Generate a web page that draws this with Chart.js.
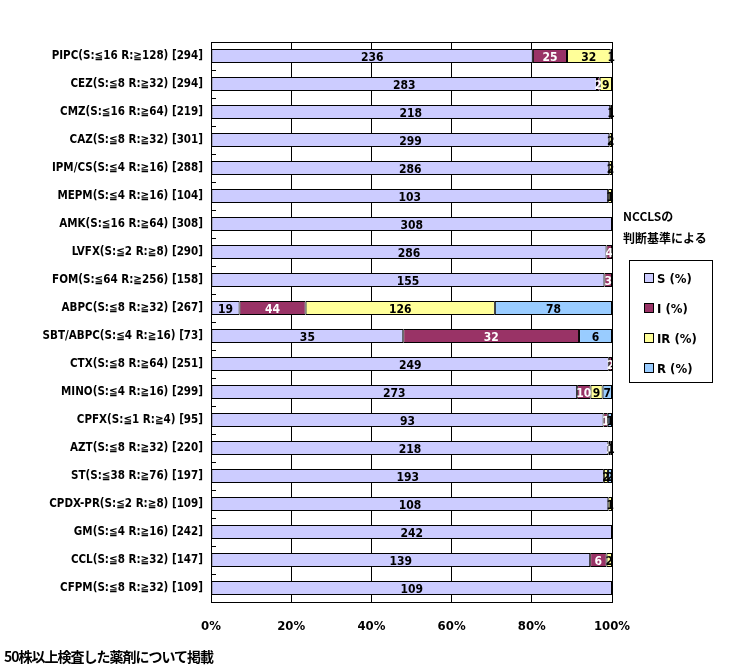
<!DOCTYPE html>
<html>
<head>
<meta charset="utf-8">
<script src="https://cdn.jsdelivr.net/npm/chart.js@4.4.1/dist/chart.umd.min.js"></script>
<style>
  body { margin: 0; background: #fff; }
  #wrap { position: relative; width: 738px; height: 672px; }
  .note { position: absolute; font-family: "Noto Sans CJK JP", sans-serif; font-weight: bold; color: #000; }
  #legendBox { position: absolute; left: 629px; top: 260px; width: 84px; height: 123px; border: 1px solid #000; box-sizing: border-box; }
  .item { position: absolute; left: 14px; font: bold 13px "DejaVu Sans Condensed", sans-serif; }
  .sw { display: inline-block; width: 8px; height: 8px; border: 1px solid #000; margin-right: 3px; vertical-align: 0px; }
</style>
</head>
<body>
<div id="wrap">
  <canvas id="resistChart" width="738" height="672"></canvas>
  <div class="note" style="left:623px; top:207px; font-size:12px;">NCCLSの</div>
  <div class="note" style="left:623px; top:229px; font-size:12px;">判断基準による</div>
  <div id="legendBox"></div>
  <div class="note" style="left:4px; top:646px; font-size:14px; letter-spacing:-1px;">50株以上検査した薬剤について掲載</div>
</div>
<script>
// categories (drug, breakpoints, number of strains)
const categories = [
  "PIPC(S:≦16 R:≧128) [294]", "CEZ(S:≦8 R:≧32) [294]", "CMZ(S:≦16 R:≧64) [219]",
  "CAZ(S:≦8 R:≧32) [301]", "IPM/CS(S:≦4 R:≧16) [288]", "MEPM(S:≦4 R:≧16) [104]",
  "AMK(S:≦16 R:≧64) [308]", "LVFX(S:≦2 R:≧8) [290]", "FOM(S:≦64 R:≧256) [158]",
  "ABPC(S:≦8 R:≧32) [267]", "SBT/ABPC(S:≦4 R:≧16) [73]", "CTX(S:≦8 R:≧64) [251]",
  "MINO(S:≦4 R:≧16) [299]", "CPFX(S:≦1 R:≧4) [95]", "AZT(S:≦8 R:≧32) [220]",
  "ST(S:≦38 R:≧76) [197]", "CPDX-PR(S:≦2 R:≧8) [109]", "GM(S:≦4 R:≧16) [242]",
  "CCL(S:≦8 R:≧32) [147]", "CFPM(S:≦8 R:≧32) [109]"
];

// strain counts per category
const sCounts  = [236, 283, 218, 299, 286, 103, 308, 286, 155, 19, 35, 249, 273, 93, 218, 193, 108, 242, 139, 109];
const iCounts  = [25, 2, 0, 0, 0, 0, 0, 4, 3, 44, 32, 2, 10, 1, 1, 0, 0, 0, 6, 0];
const irCounts = [32, 9, 1, 2, 2, 1, 0, 0, 0, 126, 0, 0, 9, 0, 1, 2, 1, 0, 2, 0];
const rCounts  = [1, 0, 0, 0, 0, 0, 0, 0, 0, 78, 6, 0, 7, 1, 0, 2, 0, 0, 0, 0];

const seriesNames = ["S (%)", "I (%)", "IR (%)", "R (%)"];
const xTicks = ["0%", "20%", "40%", "60%", "80%", "100%"];

const colors = ['#ccccff', '#993366', '#ffff99', '#99ccff'];
const textColors = ['#000', '#fff', '#000', '#000'];
const counts = [sCounts, iCounts, irCounts, rCounts];

const totals = categories.map((c, i) => counts.reduce((a, s) => a + s[i], 0));
const toPct = arr => arr.map((v, i) => v / totals[i] * 100);

// legend (html)
const box = document.getElementById('legendBox');
seriesNames.forEach((name, k) => {
  const d = document.createElement('div');
  d.className = 'item';
  d.style.top = (10 + k * 30) + 'px';
  d.innerHTML = '<span class="sw" style="background:' + colors[k] + '"></span>' + name;
  box.appendChild(d);
});

// count labels in each segment, chart border, small y tick marks
const extras = {
  id: 'extras',
  afterDatasetsDraw(chart) {
    const ctx = chart.ctx;
    ctx.save();
    ctx.font = 'bold 12px "DejaVu Sans Condensed", sans-serif';
    ctx.textAlign = 'center';
    ctx.textBaseline = 'middle';
    chart.data.datasets.forEach((ds, k) => {
      chart.getDatasetMeta(k).data.forEach((bar, i) => {
        const v = counts[k][i];
        if (!v) return;
        const mid = (bar.x + bar.base) / 2;
        ctx.fillStyle = textColors[k];
        ctx.fillText(String(v), mid, bar.y + 2);
      });
    });
    const a = chart.chartArea;
    ctx.strokeStyle = '#000';
    ctx.lineWidth = 1;
    ctx.strokeRect(Math.round(a.left) + 0.5, Math.round(a.top) + 0.5, Math.round(a.right - a.left), Math.round(a.bottom - a.top));
    const y = chart.scales.y;
    ctx.beginPath();
    for (let i = 0; i < categories.length - 1; i++) {
      const py = Math.round((y.getPixelForValue(i) + y.getPixelForValue(i + 1)) / 2) + 0.5;
      ctx.moveTo(a.left, py);
      ctx.lineTo(a.left + 5, py);
    }
    ctx.stroke();
    ctx.restore();
  }
};

const ctx1 = document.getElementById('resistChart').getContext('2d');
const resistChart = new Chart(ctx1, {
  type: 'bar',
  data: {
    labels: categories,
    datasets: seriesNames.map((name, k) => ({
      label: name,
      data: toPct(counts[k]),
      backgroundColor: colors[k],
      borderColor: '#000',
      borderWidth: 1,
      borderSkipped: false,
      barPercentage: 0.5,
      categoryPercentage: 1.0
    }))
  },
  options: {
    indexAxis: 'y',
    responsive: false,
    animation: false,
    layout: { padding: { left: 0, right: 126, top: 42, bottom: 30 } },
    plugins: {
      legend: { display: false },
      tooltip: { enabled: false }
    },
    scales: {
      x: {
        stacked: true,
        min: 0,
        max: 100,
        afterFit(s) { s.height = 40; },
        grid: { color: '#000', lineWidth: 1, drawTicks: false },
        border: { color: '#000' },
        ticks: {
          stepSize: 20,
          padding: 17,
          color: '#000',
          font: { family: '"DejaVu Sans Condensed", sans-serif', size: 13, weight: 'bold' },
          callback: (v) => xTicks[v / 20]
        }
      },
      y: {
        stacked: true,
        afterFit(s) { s.width = 211; },
        grid: { display: false, drawTicks: false },
        border: { color: '#000' },
        ticks: {
          padding: 8,
          color: '#000',
          font: { family: '"DejaVu Sans Condensed", sans-serif', size: 11.5, weight: 'bold' }
        }
      }
    }
  },
  plugins: [extras]
});
</script>
</body>
</html>
